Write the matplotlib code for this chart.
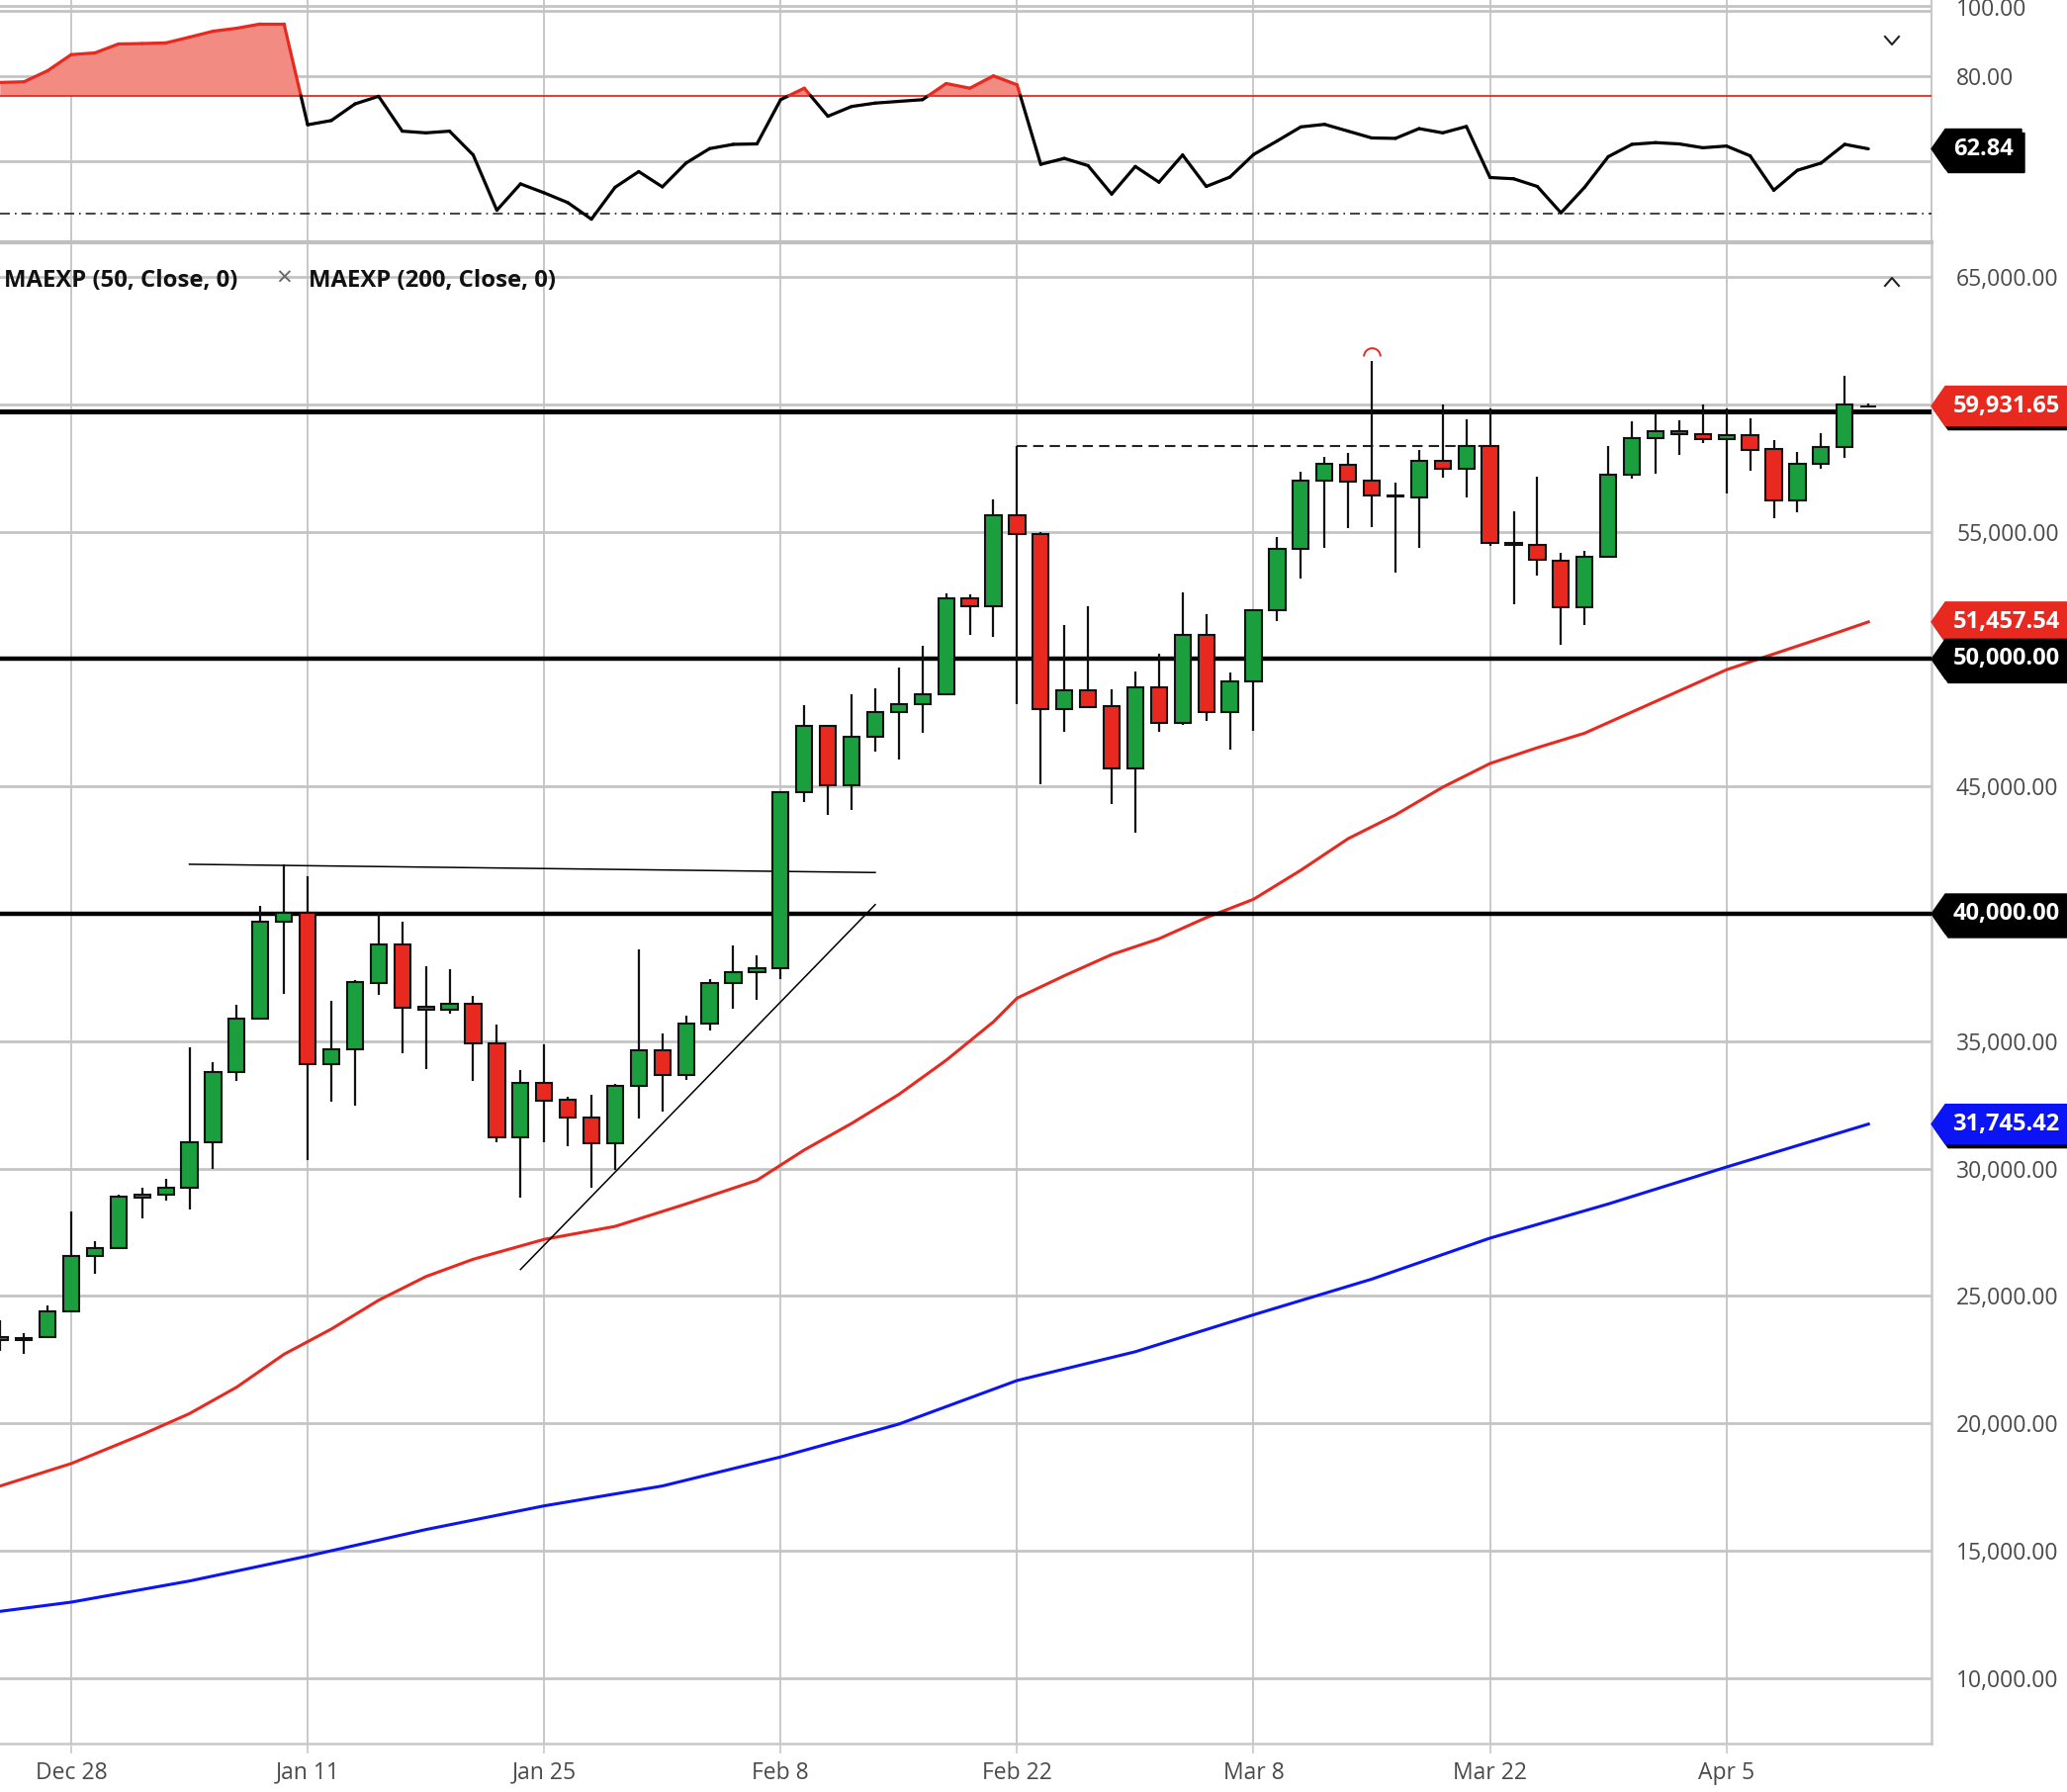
import numpy as np
import pandas as pd
import matplotlib
matplotlib.use("Agg")
import matplotlib.pyplot as plt
from matplotlib.patches import Polygon
from matplotlib.lines import Line2D
from matplotlib.path import Path
from matplotlib.collections import LineCollection

plt.rcParams["font.family"] = ["Open Sans", "DejaVu Sans"]

# ---- data ----
start_day = "2020-12-23"
opens = [23400, 23260, 23375, 24403, 26569, 26875, 28875, 28986, 29236, 31014,
         33778, 35875, 39708, 40042, 34097, 34694, 37292, 38792, 36347, 36236,
         36458, 34903, 31208, 33347, 32708, 32014, 31000, 33264, 34625, 33653,
         35681, 37292, 37694, 37847, 44760, 47360, 45053, 46933, 47933, 48227,
         48600, 52400, 52067, 55627, 54920, 48027, 48787, 48133, 45693, 48893,
         47493, 50933, 47933, 49120, 51920, 54333, 56987, 57641, 57000, 56400,
         56359, 57769, 57487, 58372, 54564, 54474, 53859, 52026, 54013, 57218,
         58654, 58962, 58833, 58641, 58795, 58244, 56231, 57667, 58308, 59900]
highs = [24030, 23540, 24625, 28333, 27153, 28958, 29264, 29611, 34750, 34167,
         36431, 40319, 41944, 41458, 36597, 37389, 40069, 39694, 37944, 37819,
         36764, 35653, 33847, 34861, 32806, 32903, 33333, 38611, 35319, 36014,
         37431, 38750, 38361, 44800, 48187, 47360, 48627, 48853, 49667, 50520,
         52587, 52520, 56253, 58360, 54987, 51333, 52067, 48827, 49493, 50227,
         52600, 51760, 49453, 51960, 54787, 57360, 57920, 58090, 61718, 56923,
         58205, 60000, 59410, 59846, 55808, 57167, 54179, 54244, 58372, 59333,
         59628, 59372, 60000, 59846, 59436, 58603, 58128, 58859, 61128, 60038]
lows = [22850, 22710, 23333, 24375, 25875, 26875, 28028, 28750, 28375, 30000,
        33431, 35833, 36847, 30347, 32611, 32458, 36806, 34542, 33889, 36097,
        33431, 31042, 28861, 31014, 30875, 29264, 29931, 31972, 32222, 33472,
        35403, 36292, 36639, 37431, 44400, 43867, 44093, 46360, 46053, 47120,
        48560, 50960, 50853, 48227, 45093, 47160, 48120, 44293, 43200, 47160,
        47427, 47587, 46427, 47187, 51493, 53160, 54360, 55141, 55167, 53385,
        54359, 57128, 56333, 54436, 52154, 53282, 50564, 51321, 54013, 57064,
        57256, 58026, 58474, 56513, 57410, 55526, 55756, 57474, 57897, 59859]
closes = [23260, 23360, 24403, 26569, 26875, 28889, 28986, 29236, 31042, 33792,
          35903, 39708, 40050, 34097, 34694, 37319, 38792, 36319, 36236, 36486,
          34903, 31208, 33347, 32681, 31986, 31000, 33264, 34625, 33653, 35681,
          37292, 37694, 37847, 44760, 47360, 45053, 46933, 47933, 48227, 48600,
          52400, 52067, 55627, 54920, 48027, 48787, 48120, 45693, 48893, 47493,
          50933, 47933, 49120, 51920, 54333, 56987, 57667, 56962, 56410, 56410,
          57769, 57487, 58372, 54564, 54474, 53885, 52026, 54013, 57218, 58654,
          58962, 58833, 58641, 58795, 58218, 56231, 57667, 58308, 59974, 59931.65]

# oscillator in the upper pane
osc = [78.45, 78.6, 81.2, 85.0, 85.4, 87.5, 87.6, 87.75, 89.1, 90.5,
       91.2, 92.2, 92.2, 68.5, 69.5, 73.4, 75.2, 67.0, 66.6, 67.0,
       61.4, 48.4, 54.6, 52.5, 50.2, 46.3, 53.8, 57.5, 53.9, 59.5,
       62.9, 63.9, 64.0, 74.4, 77.1, 70.5, 72.8, 73.6, 74.0, 74.4,
       78.2, 77.1, 80.0, 77.9, 59.2, 60.6, 58.9, 52.2, 58.7, 55.0,
       61.4, 54.0, 56.2, 61.5, 64.7, 68.0, 68.6, 67.0, 65.4, 65.3,
       67.6, 66.6, 68.1, 56.1, 55.8, 54.0, 47.8, 53.8, 61.0, 63.9,
       64.3, 64.0, 63.1, 63.5, 61.2, 53.1, 57.8, 59.5, 63.9, 62.84]
osc_upper = 75.35
osc_lower = 47.6

# moving averages, sampled at bar positions
ema50_pos = [0, 3, 6, 8, 10, 12, 14, 16, 18, 20, 23, 26, 29, 32, 34, 36, 38, 40, 42,
             43, 45, 47, 49, 51, 53, 55, 57, 59, 61, 63, 65, 67, 69, 71, 73, 75, 77, 79]
ema50_val = [17540, 18420, 19560, 20380, 21420, 22710, 23700, 24830, 25760, 26440,
             27220, 27730, 28610, 29540, 30730, 31770, 32910, 34250, 35760, 36690,
             37570, 38400, 39020, 39850, 40570, 41710, 42950, 43880, 44970, 45900,
             46520, 47090, 47920, 48750, 49580, 50200, 50820, 51457.54]
ema200_pos = [0, 3, 8, 13, 18, 23, 28, 33, 38, 43, 48, 53, 58, 63, 68, 73, 79]
ema200_val = [12620, 12980, 13810, 14790, 15830, 16760, 17540, 18680, 19970, 21680,
              22810, 24260, 25660, 27270, 28610, 30060, 31745.42]

tick_dates = ["2020-12-28", "2021-01-11", "2021-01-25", "2021-02-08",
              "2021-02-22", "2021-03-08", "2021-03-22", "2021-04-05"]
tick_labels = ["Dec 28", "Jan 11", "Jan 25", "Feb 8", "Feb 22", "Mar 8", "Mar 22", "Apr 5"]

level_lines = [40000, 50000, 59730]
resist_line = ([8, 37], [41944, 41620])
support_line = ([22, 37], [26040, 40360])
prev_high = ([43, 63], [58370, 58370])
spike_mark = (58, 61900)

last_close = 59931.65

# ---- figure ----
W, H = 2090, 1812
fig = plt.figure(figsize=(W / 100, H / 100), dpi=100)
fig.patch.set_facecolor("white")

def fpt(px, py):
    return px / W, 1 - py / H

GREEN = "#1b9e3e"
RED = "#e8291f"
BLUE = "#0a14f5"
GRID = "#c8c8c8"
TXT = "#4a4a4a"

dates = pd.bdate_range(start_day, periods=len(closes))
x = np.arange(len(dates))
tick_pos = dates.get_indexer(pd.to_datetime(tick_dates))
xmin, xmax = -0.011, 81.67

ax_top = fig.add_axes([0, 1 - 243 / H, 1953 / W, 243 / H])
ax = fig.add_axes([0, 1 - 1763 / H, 1953 / W, (1763 - 247) / H])

# ---- upper oscillator pane ----
ax_top.set_xlim(xmin, xmax)
ax_top.set_ylim(41.33, 97.84)
ax_top.set_xticks(tick_pos)
ax_top.tick_params(axis="x", length=0, labelbottom=False)
ax_top.yaxis.tick_right()
ax_top.set_yticks([60, 80])
ax_top.set_yticklabels(["", "80.00"])   # 60.00 sits under the value badge
ax_top.tick_params(axis="y", length=0, pad=18, labelsize=16.5, labelcolor=TXT)
ax_top.grid(True, axis="x", color=GRID, lw=1.4)
ax_top.grid(True, axis="y", color="#c4c4c4", lw=2)
ax_top.axhline(96.44, color="#c4c4c4", lw=2)
ax_top.axhline(95.28, color="#c4c4c4", lw=2)
for s in ["top", "left", "bottom"]:
    ax_top.spines[s].set_visible(False)
ax_top.spines["right"].set_color(GRID)
ax_top.spines["right"].set_linewidth(1.5)

osc_arr = np.array(osc)
ax_top.fill_between(x, osc_arr, osc_upper, where=osc_arr > osc_upper,
                    interpolate=True, color="#f28b82", lw=0, zorder=2)
ax_top.axhline(osc_upper, color=RED, lw=1.3, zorder=3)
ax_top.axhline(osc_lower, color="#222222", lw=1.2, ls=(0, (6, 3, 1, 3)), zorder=3)

segs, cols = [], []
for i in range(len(x) - 1):
    x0, x1, y0, y1 = x[i], x[i + 1], osc[i], osc[i + 1]
    a0, a1 = y0 > osc_upper, y1 > osc_upper
    if a0 == a1:
        segs.append([(x0, y0), (x1, y1)])
        cols.append(RED if a0 else "black")
    else:
        t = (osc_upper - y0) / (y1 - y0)
        xc = x0 + t * (x1 - x0)
        segs.append([(x0, y0), (xc, osc_upper)])
        cols.append(RED if a0 else "black")
        segs.append([(xc, osc_upper), (x1, y1)])
        cols.append(RED if a1 else "black")
ax_top.add_collection(LineCollection(segs, colors=cols, linewidths=2.3,
                                     capstyle="round", joinstyle="round", zorder=4))

fig.text(*fpt(1978, 10), "100.00", fontsize=16.5, color=TXT, va="center", ha="left")

# ---- main price pane ----
ax.set_xlim(xmin, xmax)
ax.set_ylim(7430, 66281)
ax.set_xticks(tick_pos)
ax.set_xticklabels(tick_labels)
ax.tick_params(axis="x", length=7.2, width=1.2, color=GRID, pad=5.5,
               labelsize=16.5, labelcolor=TXT)
ax.yaxis.tick_right()
yt = np.arange(10000, 65001, 5000)
ax.set_yticks(yt)
# labels hidden behind the level badges are left blank
ax.set_yticklabels(["" if v in (40000, 50000, 60000) else f"{v:,.2f}" for v in yt])
ax.tick_params(axis="y", length=0, pad=18, labelsize=16.5, labelcolor=TXT)
ax.grid(True, axis="x", color=GRID, lw=1.4, zorder=0)
ax.grid(True, axis="y", color="#c4c4c4", lw=2, zorder=0)
ax.set_axisbelow(True)
for s in ["top", "left"]:
    ax.spines[s].set_visible(False)
for s in ["right", "bottom"]:
    ax.spines[s].set_color(GRID)
    ax.spines[s].set_linewidth(1.8)

ax.plot(ema50_pos, ema50_val, color=RED, lw=2.2, zorder=3)
ax.plot(ema200_pos, ema200_val, color=BLUE, lw=2.2, zorder=3)

for lv in level_lines:
    ax.axhline(lv, color="black", lw=3.2 if lv != 59730 else 3.6, zorder=4)

ax.plot(*resist_line, color="black", lw=1.1, zorder=4)
ax.plot(*support_line, color="black", lw=1.1, zorder=4)
ax.plot(*prev_high, color="#222222", lw=1.5, ls=(0, (5, 3)), zorder=4)

o = np.array(opens); c = np.array(closes)
hi = np.array(highs); lo = np.array(lows)
up = c >= o
ax.vlines(x, lo, hi, color="#111111", lw=1.6, zorder=5)
ax.bar(x, np.abs(c - o), bottom=np.minimum(o, c), width=0.68,
       color=np.where(up, GREEN, RED), edgecolor="#111111", linewidth=1.5, zorder=6)

arc = Path.arc(0, 180)
ax.plot([spike_mark[0]], [spike_mark[1]], marker=arc, ms=12, mfc="none",
        mec=RED, mew=1.4, zorder=7)

# legend line of the price pane
fig.text(*fpt(4, 284), "MAEXP (50, Close, 0)", fontsize=17.2, fontweight="bold",
         color="#111111", va="center", ha="left")
fig.text(*fpt(287, 283), "×", fontsize=20, color="#666666", va="center", ha="center")
fig.text(*fpt(312, 284), "MAEXP (200, Close, 0)", fontsize=17.2, fontweight="bold",
         color="#111111", va="center", ha="left")

# separator between panes
fig.add_artist(Line2D([0, 1953 / W], [1 - 245 / H] * 2, color="#c0c0c0", lw=3,
                      transform=fig.transFigure))

# collapse / expand chevrons
for cx, cy, d in [(1913, 41, 1), (1913, 285, -1)]:
    xs = [cx - 7, cx, cx + 7]
    ys = [cy - 4 * d, cy + 4 * d, cy - 4 * d]
    fig.add_artist(Line2D([v / W for v in xs], [1 - v / H for v in ys],
                          color="#222222", lw=1.5, transform=fig.transFigure))


def badge(axis, value, label, color, right=2090):
    ypx = H - axis.transData.transform((0, value))[1]
    tip, h = 1953, 40
    pts = [(tip, ypx), (tip + 14, ypx - h / 2), (right, ypx - h / 2),
           (right, ypx + h / 2), (tip + 14, ypx + h / 2)]
    shadow = [(px + 3, py + 4) for px, py in pts]
    fig.add_artist(Polygon([fpt(*p) for p in shadow], closed=True, color="black",
                           transform=fig.transFigure, zorder=5))
    fig.add_artist(Polygon([fpt(*p) for p in pts], closed=True, color=color,
                           transform=fig.transFigure, zorder=6))
    fig.text(*fpt((tip + 14 + right) / 2, ypx), label, fontsize=17,
             fontweight="bold", color="white", ha="center", va="center", zorder=7)


badge(ax_top, osc[-1], f"{osc[-1]:.2f}", "black", right=2044)
badge(ax, last_close, f"{last_close:,.2f}", RED)
badge(ax, ema50_val[-1], f"{ema50_val[-1]:,.2f}", RED)
badge(ax, 50000, "50,000.00", "black")
badge(ax, 40000, "40,000.00", "black")
badge(ax, ema200_val[-1], f"{ema200_val[-1]:,.2f}", BLUE)

fig.savefig("out.png", dpi=100)
